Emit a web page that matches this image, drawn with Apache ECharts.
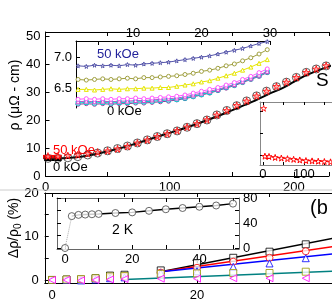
<!DOCTYPE html>
<html><head><meta charset="utf-8">
<script src="https://cdn.jsdelivr.net/npm/echarts@6/dist/echarts.min.js"></script>
<style>html,body{margin:0;padding:0;background:#fff}#c{width:332px;height:302px}</style>
</head><body><div id="c"></div>
<script>
// ---------- panel (a) main: rho vs T ----------
const tMarks = [2,10,18,26,34,42,50,58,66,74,82,90,98,106,114,122,130,138,146,154,162,170,178,186,194,202,210,218,226];
const rho0k  = [6.3,6.3,6.5,6.9,7.5,8.2,9.0,9.8,10.7,11.8,12.9,14.1,15.1,16.1,17.4,18.7,20.0,21.8,23.4,25.1,26.8,28.6,30.3,31.9,33.5,35.2,37.0,38.2,39.3];
const rho50k = [7.1,7.1,7.3,7.6,8.0,8.5,9.0,9.7,10.6,11.8,12.9,14.1,15.1,16.2,17.5,18.7,20.1,21.8,23.4,25.2,26.8,28.6,30.3,32.0,33.5,35.2,37.0,38.2,39.4];
const tFit   = [0,10,20,30,40,50,60,70,80,90,100,110,120,130,140,150,160,170,180,190,200,210,220,230];
const rhoFit = [6.3,6.3,6.5,7.0,7.8,8.8,9.9,11.2,12.6,14.0,15.4,16.8,18.3,19.9,21.6,23.4,25.3,27.2,29.3,31.2,33.6,36.0,37.8,39.4];
const tLow   = [-7,13];
const rhoLow50 = [6.8,6.8];
const rhoLow0  = [5.8,5.8];
// ---------- panel (a) inset: low-T rho for fields ----------
const tIn = [2,3.2,4.4,5.6,6.8,8,9.2,10.4,11.6,12.8,14,15.2,16.4,17.6,18.8,20,21.2,22.4,23.6,24.8,26,27.2,28.4,29.6];
const in50 = [6.86,6.85,6.87,6.86,6.87,6.86,6.88,6.87,6.89,6.90,6.91,6.92,6.94,6.96,6.98,7.00,7.02,7.05,7.08,7.11,7.14,7.18,7.22,7.25];
const in40 = [6.64,6.63,6.64,6.65,6.64,6.65,6.66,6.65,6.67,6.67,6.68,6.69,6.70,6.72,6.74,6.77,6.79,6.82,6.86,6.89,6.94,6.99,7.05,7.12];
const in30 = [6.48,6.48,6.47,6.48,6.49,6.48,6.49,6.49,6.50,6.50,6.51,6.51,6.53,6.55,6.57,6.60,6.62,6.66,6.70,6.74,6.79,6.84,6.90,6.96];
const in20 = [6.32,6.33,6.32,6.33,6.32,6.33,6.33,6.34,6.33,6.34,6.35,6.36,6.37,6.39,6.42,6.45,6.48,6.51,6.55,6.59,6.64,6.69,6.75,6.81];
const in10 = [6.28,6.29,6.28,6.29,6.28,6.29,6.29,6.30,6.30,6.31,6.32,6.33,6.34,6.36,6.39,6.42,6.45,6.48,6.52,6.56,6.61,6.66,6.71,6.77];
const in5  = [6.26,6.27,6.26,6.27,6.26,6.27,6.27,6.28,6.28,6.29,6.30,6.31,6.32,6.34,6.37,6.40,6.43,6.47,6.51,6.55,6.60,6.65,6.70,6.76];
const in0  = [6.24,6.25,6.24,6.25,6.24,6.25,6.25,6.26,6.26,6.27,6.28,6.29,6.31,6.33,6.36,6.39,6.42,6.46,6.50,6.54,6.59,6.64,6.69,6.75];
// ---------- panel (a) small inset ----------
const tSm = [5,15,30,45,60,75,90,105,120,135,150,165,180];
const ySm = [0.14,0.135,0.12,0.11,0.10,0.09,0.08,0.07,0.065,0.06,0.055,0.05,0.045];
const tSmTop = [2];
const ySmTop = [0.9];
// ---------- panel (b) main: MR vs H ----------
const hMR = [0,2,4,6,8,10,15,20,25,30,35];
const mrBlack = [0,0.1,0.1,0.4,1.0,1.2,2.2,3.9,5.1,6.5,8.2];
const mrRed   = [0,0,0,0.2,0.6,0.8,1.7,2.8,4.2,5.1,6.6];
const mrBlue  = [0,0,-0.1,0.1,0.4,0.6,1.6,2.0,3.0,3.8,5.0];
const mrOlive = [0,0.1,0.2,0.4,0.8,0.9,1.4,1.5,1.6,1.6,1.9];
const mrMag   = [0,0,-0.1,0,0.1,0.2,0.3,0.3,0.4,0.4,0.4];
const hLine = [15,40];
const lnBlack = [1.9,10.0];
const lnRed   = [1.9,8.0];
const lnBlue  = [1.9,6.2];
const hTeal = [10,40];
const lnTeal = [0.1,2.1];
// ---------- panel (b) inset: 2 K ----------
const h2K = [0,2,4,6,8,10,15,20,25,30,35,40,45,50];
const mr2K = [0,51,53,53.5,54,54.5,56,57,59.5,62,64,66,68,71];

const F = 'Liberation Sans, Arial, sans-serif';
const pair = (xs, ys) => xs.map((x, i) => [x, ys[i]]);
const star = 'path://M50,0 L61,35 L98,35 L68,57 L79,91 L50,70 L21,91 L32,57 L2,35 L39,35 Z';
const openSym = (c) => ({color: '#fff', borderColor: c, borderWidth: 1});
const lbl = {fontFamily: F, fontSize: 13, color: '#000'};
const axBase = (o) => Object.assign({
  type: 'value', splitLine: {show: false},
  axisLine: {show: true, onZero: false, lineStyle: {color: '#000', width: 1}},
  axisTick: {show: true, inside: true, length: 4, lineStyle: {color: '#000'}},
  axisLabel: Object.assign({show: true, margin: 4}, lbl)
}, o);
const noLbl = {show: false};

const chart = echarts.init(document.getElementById('c'), null, {renderer: 'canvas'});
const grids = [
  {left: 45.5, top: 32, right: 0, height: 144},         // a main
  {left: 76, top: 41, width: 194, height: 67},          // a inset
  {left: 260, top: 102, right: 0, height: 63},          // a small inset
  {left: 44.75, top: 193, right: 0, height: 90},        // b main
  {left: 57, top: 198, width: 182, height: 51}          // b inset
];
const xAxes = [
  axBase({gridIndex: 0, min: 0, max: 228.3, interval: 50, axisLabel: Object.assign({margin: 5, formatter: v => v % 100 === 0 ? v : ''}, lbl)}),
  axBase({gridIndex: 0, position: 'top', min: 0, max: 228.3, interval: 50, axisLabel: noLbl}),
  axBase({gridIndex: 1, position: 'top', min: 1.7, max: 30, axisLabel: Object.assign({customValues: [10,20,30], margin: 1}, lbl), axisTick: {inside: true, length: 4, customValues: [5,10,15,20,25,30], lineStyle:{color:'#000'}}}),
  axBase({gridIndex: 2, min: -7, max: 168.6, axisLabel: Object.assign({customValues: [0,100], margin: 3}, lbl), axisTick: {inside: true, length: 3, customValues: [0,50,100,150], lineStyle:{color:'#000'}}, axisLine: {onZero:false, lineStyle:{color:'#888'}}}),
  axBase({gridIndex: 2, position: 'top', min: -7, max: 168.6, axisLabel: noLbl, axisTick: {inside: true, length: 3, customValues: [0,50,100,150], lineStyle:{color:'#000'}}, axisLine: {onZero:false, lineStyle:{color:'#888'}}}),
  axBase({gridIndex: 3, min: -1, max: 38.62, axisLabel: Object.assign({customValues: [0,20], margin: 6}, lbl), axisTick: {inside: true, length: 4, customValues: [0,10,20,30], lineStyle:{color:'#000'}}}),
  axBase({gridIndex: 3, position: 'top', min: -1, max: 38.62, axisLabel: noLbl, axisTick: {inside: true, length: 4, customValues: [0,10,20,30], lineStyle:{color:'#000'}}}),
  axBase({gridIndex: 4, min: -2.4, max: 51.8, axisLabel: Object.assign({customValues: [0,20,40], margin: 4}, lbl), axisTick: {inside: true, length: 4, customValues: [0,10,20,30,40,50], lineStyle:{color:'#000'}}, axisLine:{onZero:false, lineStyle:{color:'#666'}}}),
  axBase({gridIndex: 4, position: 'top', min: -2.4, max: 51.8, axisLabel: noLbl, axisTick: {inside: true, length: 4, customValues: [0,10,20,30,40,50], lineStyle:{color:'#000'}}, axisLine:{onZero:false, lineStyle:{color:'#666'}}})
];
const yAxes = [
  axBase({gridIndex: 0, min: 0, max: 51.4, interval: 10, axisLabel: Object.assign({margin: 5}, lbl)}),
  axBase({gridIndex: 1, min: 6.18, max: 7.26, axisLabel: Object.assign({customValues: [6.5,7.0], margin: 4, formatter: v => v.toFixed(1)}, lbl), axisTick: {inside: true, length: 4, customValues: [6.5,7.0], lineStyle:{color:'#000'}}}),
  axBase({gridIndex: 2, min: 0, max: 1, axisLabel: noLbl, axisTick: {inside: true, length: 3, customValues: [0.15,0.5,0.85], lineStyle:{color:'#000'}}, axisLine:{onZero:false, lineStyle:{color:'#888'}}}),
  axBase({gridIndex: 3, min: -0.7, max: 20, axisLabel: Object.assign({customValues: [0,10,20], margin: 6}, lbl), axisTick: {inside: true, length: 4, customValues: [0,5,10,15,20], lineStyle:{color:'#000'}}}),
  axBase({gridIndex: 4, position: 'right', min: -1.6, max: 80, axisLabel: Object.assign({customValues: [0,40,80], margin: 4}, lbl), axisTick: {inside: true, length: 4, customValues: [0,20,40,60,80], lineStyle:{color:'#000'}}, axisLine:{onZero:false, lineStyle:{color:'#666'}}}),
  axBase({gridIndex: 4, position: 'left', min: -1.6, max: 80, axisLabel: noLbl, axisTick: {inside: true, length: 4, customValues: [0,20,40,60,80], lineStyle:{color:'#000'}}, axisLine:{onZero:false, lineStyle:{color:'#666'}}})
];
const S = [];
// panel a main
S.push({type:'line', xAxisIndex:0, yAxisIndex:0, data: pair(tLow, rhoLow50), symbol:'none', lineStyle:{color:'#ff0000', width:4}, clip:false, z:3});
S.push({type:'line', xAxisIndex:0, yAxisIndex:0, data: pair(tLow, rhoLow0), symbol:'none', lineStyle:{color:'#000', width:2.5}, clip:false, z:3});
S.push({type:'line', xAxisIndex:0, yAxisIndex:0, data: pair(tFit, rhoFit), symbol:'none', smooth:0.3, lineStyle:{color:'#000', width:2}, z:2});
S.push({type:'scatter', xAxisIndex:0, yAxisIndex:0, data: pair(tMarks, rho0k), symbol:'circle', symbolSize:8, itemStyle: {color:'transparent', borderColor:'#333', borderWidth:1}, z:4});
S.push({type:'scatter', xAxisIndex:0, yAxisIndex:0, data: pair(tMarks, rho50k), symbol:star, symbolSize:7, itemStyle: {color:'#ff9999', borderColor:'#ff0000', borderWidth:1}, z:5});
// panel a inset
const inS = [[in0,'#993399','circle'],[in5,'#00cccc','rect'],[in10,'#cc44cc','triangle'],[in20,'#ff55ff','circle'],[in30,'#e6e600','triangle'],[in40,'#a0a040','circle'],[in50,'#5555aa',star]];
inS.forEach(([d,c,sym]) => S.push({type:'line', xAxisIndex:2, yAxisIndex:1, data: pair(tIn, d), symbol: sym, symbolSize: 4, showAllSymbol: true, lineStyle:{color:c, width:1}, itemStyle: openSym(c), z:6}));
// panel a small inset
S.push({type:'line', xAxisIndex:3, yAxisIndex:2, data: pair(tSm, ySm), symbol: star, symbolSize: 6, lineStyle:{color:'#ff0000', width:1}, itemStyle: openSym('#ff0000'), clip:false, z:6});
S.push({type:'scatter', xAxisIndex:3, yAxisIndex:2, data: pair(tSmTop, ySmTop), symbol: star, symbolSize: 6, itemStyle: openSym('#ff0000'), z:6});
// panel b main
const mrS = [[mrBlack,'#000','rect',0],[mrRed,'#ff0000','circle',0],[mrBlue,'#0000ff','triangle',0],[mrOlive,'#999900','rect',0],[mrMag,'#ff00ff','triangle',90]];
mrS.forEach(([d,c,sym,rot]) => S.push({type:'scatter', xAxisIndex:5, yAxisIndex:3, data: pair(hMR, d), symbol: sym, symbolRotate: rot, symbolSize: 7, itemStyle: openSym(c), z:5}));
[[hLine,lnBlack,'#000'],[hLine,lnRed,'#ff0000'],[hLine,lnBlue,'#0000ff'],[hTeal,lnTeal,'#008080']].forEach(([x,y,c]) =>
  S.push({type:'line', xAxisIndex:5, yAxisIndex:3, data: pair(x,y), symbol:'none', lineStyle:{color:c, width:1.5}, z:4}));
// panel b inset
S.push({type:'line', xAxisIndex:7, yAxisIndex:4, data: pair(h2K.slice(0,2), mr2K.slice(0,2)), symbol:'none', lineStyle:{color:'#aaa', width:1, type:'dotted'}, z:5});
S.push({type:'line', xAxisIndex:7, yAxisIndex:4, data: pair(h2K.slice(1), mr2K.slice(1)), symbol:'none', lineStyle:{color:'#000', width:1.5}, z:5});
S.push({type:'scatter', xAxisIndex:7, yAxisIndex:4, data: pair(h2K, mr2K), symbol:'circle', symbolSize:7, itemStyle: {color:'#fff', borderColor:'#444', borderWidth:1}, z:6});

chart.setOption({
  animation: false,
  backgroundColor: '#fff',
  grid: grids,
  xAxis: xAxes,
  yAxis: yAxes,
  series: S,
  graphic: [
    {type:'line', shape:{x1:0, y1:190, x2:332, y2:190}, style:{stroke:'#ccc', lineWidth:1}, z:1},
    {type:'text', x:15, y:95, rotation:Math.PI/2, style:{text:'ρ (μΩ - cm)', font:'14px '+F, fill:'#000', textAlign:'center', textVerticalAlign:'middle'}},
    {type:'text', x:14, y:228, rotation:Math.PI/2, style:{text:'{a|Δρ/ρ}{s|0}{a| (%)}', textAlign:'center', textVerticalAlign:'middle', rich:{a:{font:'14px '+F, fill:'#000'}, s:{font:'10px '+F, fill:'#000', padding:[8,0,0,0]}}}},
    {type:'text', x:53, y:150, style:{text:'50 kOe', font:'13px '+F, fill:'#ff0000', textVerticalAlign:'middle'}},
    {type:'text', x:53, y:167, style:{text:'0 kOe', font:'13px '+F, fill:'#000', textVerticalAlign:'middle'}},
    {type:'text', x:97, y:54, style:{text:'50 kOe', font:'13px '+F, fill:'#22229a', textVerticalAlign:'middle'}},
    {type:'text', x:107, y:111, style:{text:'0 kOe', font:'13px '+F, fill:'#000', textVerticalAlign:'middle'}},
    {type:'text', x:316, y:81, style:{text:'S', font:'19px '+F, fill:'#000', textVerticalAlign:'middle'}},
    {type:'text', x:310, y:208, style:{text:'(b', font:'20px '+F, fill:'#000', textVerticalAlign:'middle'}},
    {type:'text', x:112, y:230, style:{text:'2 K', font:'14px '+F, fill:'#000', textVerticalAlign:'middle'}}
  ]
});
</script></body></html>
